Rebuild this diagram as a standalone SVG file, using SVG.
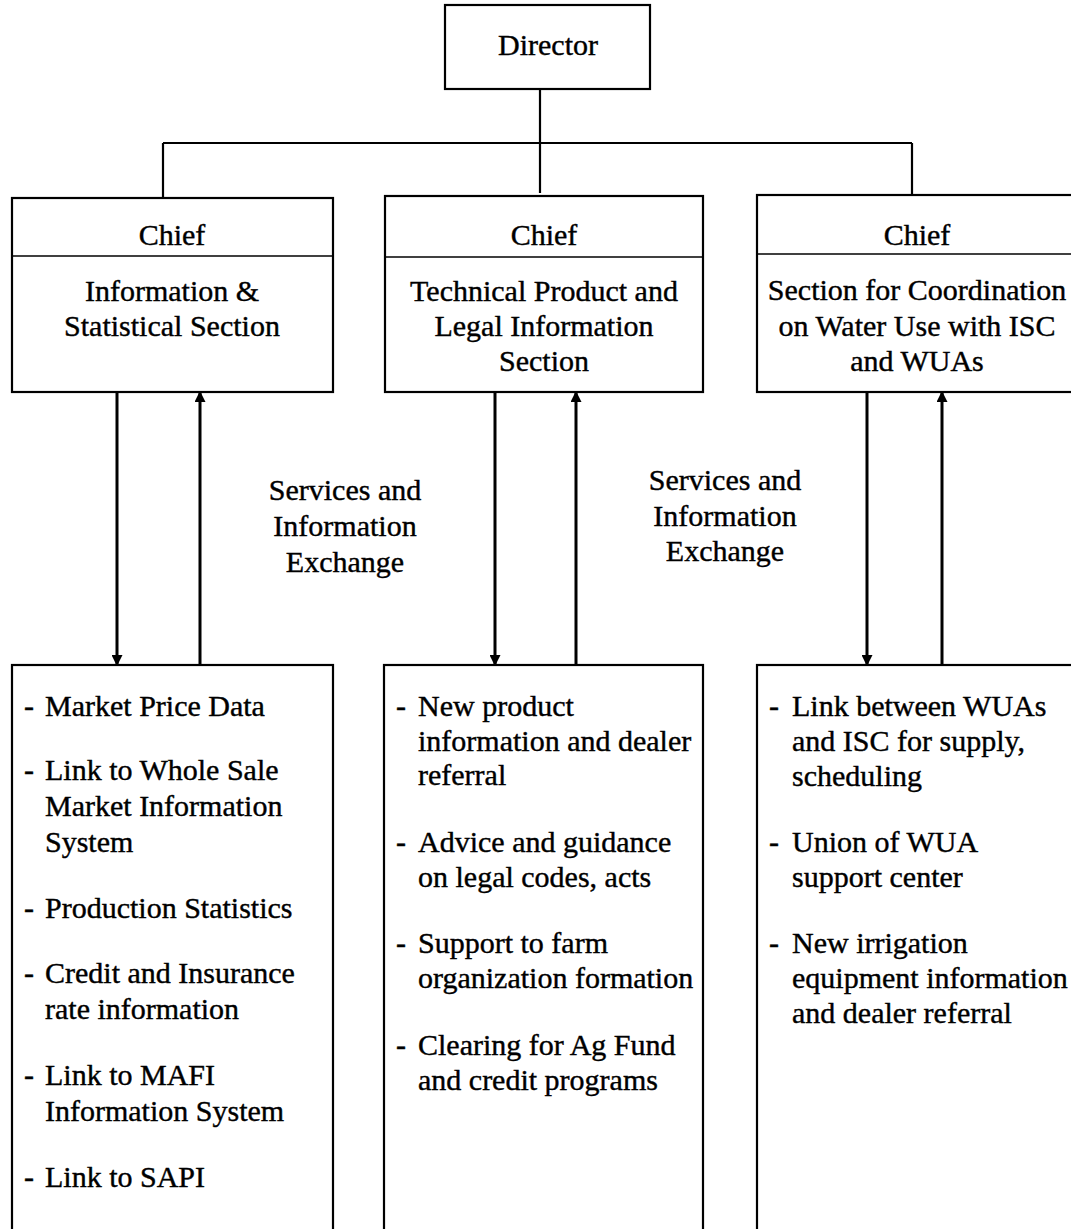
<svg xmlns="http://www.w3.org/2000/svg" width="1071" height="1229" viewBox="0 0 1071 1229">
<style>
text{font-family:"Liberation Serif","Times New Roman",serif;font-size:30px;fill:#000;stroke:#000;stroke-width:0.4}
.c{text-anchor:middle}
.box{fill:#fff;stroke:#000;stroke-width:2.2}
.div{stroke:#000;stroke-width:1.5}
.ln{stroke:#000;stroke-width:2.2;fill:none}
.ar{stroke:#000;stroke-width:3;fill:none}
</style>
<defs>
<marker id="ah" viewBox="0 0 10 10" refX="9" refY="5" markerWidth="11" markerHeight="11" markerUnits="userSpaceOnUse" orient="auto">
<path d="M0,0 L10,5 L0,10 z" fill="#000"/>
</marker>
</defs>
<g id="connectors">
<path class="ln" d="M540,89 V193 M163,143 H912 M163,143 V198 M912,143 V195"/>
<line class="ar" x1="117" y1="392" x2="117" y2="665" marker-end="url(#ah)"/>
<line class="ar" x1="200" y1="665" x2="200" y2="392" marker-end="url(#ah)"/>
<line class="ar" x1="495" y1="392" x2="495" y2="665" marker-end="url(#ah)"/>
<line class="ar" x1="576" y1="665" x2="576" y2="392" marker-end="url(#ah)"/>
<line class="ar" x1="867" y1="392" x2="867" y2="665" marker-end="url(#ah)"/>
<line class="ar" x1="942" y1="665" x2="942" y2="392" marker-end="url(#ah)"/>
</g>
<g id="director">
<rect class="box" x="445" y="5" width="205" height="84"/>
<text class="c" x="548" y="55">Director</text>
</g>
<g id="chief-info">
<rect class="box" x="12" y="198" width="321" height="194"/>
<line class="div" x1="12" y1="256" x2="333" y2="256"/>
<text class="c" x="172" y="245">Chief</text>
<text class="c" x="172" y="301">Information &amp;</text>
<text class="c" x="172" y="336">Statistical Section</text>
</g>
<g id="chief-tech">
<rect class="box" x="385" y="196" width="318" height="196"/>
<line class="div" x1="385" y1="257" x2="703" y2="257"/>
<text class="c" x="544" y="245">Chief</text>
<text class="c" x="544" y="301">Technical Product and</text>
<text class="c" x="544" y="336">Legal Information</text>
<text class="c" x="544" y="371">Section</text>
</g>
<g id="chief-water">
<rect class="box" x="757" y="195" width="330" height="197"/>
<line class="div" x1="757" y1="254" x2="1071" y2="254"/>
<text class="c" x="917" y="245">Chief</text>
<text class="c" x="917" y="300">Section for Coordination</text>
<text class="c" x="917" y="336">on Water Use with ISC</text>
<text class="c" x="917" y="371">and WUAs</text>
</g>
<g id="label-1">
<text class="c" x="345" y="500">Services and</text>
<text class="c" x="345" y="536">Information</text>
<text class="c" x="345" y="572">Exchange</text>
</g>
<g id="label-2">
<text class="c" x="725" y="490">Services and</text>
<text class="c" x="725" y="526">Information</text>
<text class="c" x="725" y="561">Exchange</text>
</g>
<g id="list-info">
<rect class="box" x="12" y="665" width="321" height="580"/>
<text x="24" y="716">-</text><text x="45" y="716">Market Price Data</text>
<text x="24" y="780">-</text><text x="45" y="780">Link to Whole Sale</text>
<text x="45" y="816">Market Information</text>
<text x="45" y="852">System</text>
<text x="24" y="918">-</text><text x="45" y="918">Production Statistics</text>
<text x="24" y="983">-</text><text x="45" y="983">Credit and Insurance</text>
<text x="45" y="1019">rate information</text>
<text x="24" y="1085">-</text><text x="45" y="1085">Link to MAFI</text>
<text x="45" y="1121">Information System</text>
<text x="24" y="1187">-</text><text x="45" y="1187">Link to SAPI</text>
</g>
<g id="list-tech">
<rect class="box" x="384" y="665" width="319" height="580"/>
<text x="396" y="716">-</text><text x="418" y="716">New product</text>
<text x="418" y="751">information and dealer</text>
<text x="418" y="785">referral</text>
<text x="396" y="852">-</text><text x="418" y="852">Advice and guidance</text>
<text x="418" y="887">on legal codes, acts</text>
<text x="396" y="953">-</text><text x="418" y="953">Support to farm</text>
<text x="418" y="988">organization formation</text>
<text x="396" y="1055">-</text><text x="418" y="1055">Clearing for Ag Fund</text>
<text x="418" y="1090">and credit programs</text>
</g>
<g id="list-water">
<rect class="box" x="757" y="665" width="330" height="580"/>
<text x="769" y="716">-</text><text x="792" y="716">Link between WUAs</text>
<text x="792" y="751">and ISC for supply,</text>
<text x="792" y="786">scheduling</text>
<text x="769" y="852">-</text><text x="792" y="852">Union of WUA</text>
<text x="792" y="887">support center</text>
<text x="769" y="953">-</text><text x="792" y="953">New irrigation</text>
<text x="792" y="988">equipment information</text>
<text x="792" y="1023">and dealer referral</text>
</g>
</svg>
